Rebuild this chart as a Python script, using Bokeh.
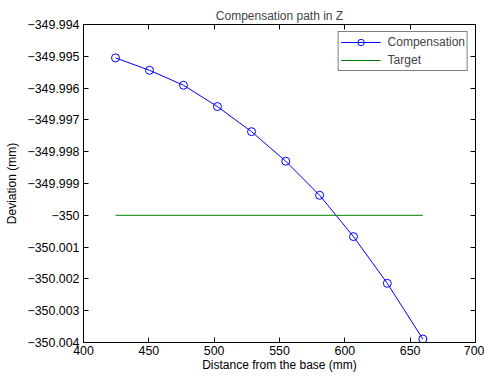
from bokeh.plotting import figure
from bokeh.models import LinearAxis, FixedTicker, CustomJSTickFormatter, Range1d, Legend, LegendItem
from bokeh.embed import file_html
from bokeh.resources import INLINE

# Data
distance = [424.5, 450.5, 476.5, 502.5, 528.6, 554.8, 580.7, 606.6, 632.5, 659.7]
compensation = [-349.99505, -349.99544, -349.99591, -349.99658, -349.99737,
                -349.99830, -349.99937, -350.00067, -350.00214, -350.00389]
target_x = [424.5, 659.7]
target_y = [-350.0, -350.0]
x_ticks = [400, 450, 500, 550, 600, 650, 700]
y_ticks = [-350.004, -350.003, -350.002, -350.001, -350.0, -349.999,
           -349.998, -349.997, -349.996, -349.995, -349.994]

FONT = "Liberation Sans"
FS = "12px"
TFS = "12.4px"

p = figure(width=484, height=377, output_backend="svg", toolbar_location=None,
           x_range=Range1d(400, 700), y_range=Range1d(-350.004, -349.994),
           min_border_left=83, min_border_right=9, min_border_top=24, min_border_bottom=35)

p.title.text = "Compensation path in Z"
p.title.align = "center"
p.title.text_font = FONT
p.title.text_font_size = FS
p.title.text_font_style = "normal"
p.title.offset = 0
p.title.standoff = 4

p.xgrid.visible = False
p.ygrid.visible = False
p.outline_line_color = "black"
p.outline_line_width = 1
p.background_fill_color = "white"
p.border_fill_color = "white"

yfmt = CustomJSTickFormatter(code="""
var v = Math.round(tick*1000)/1000;
return v.toString().replace('-', '\\u2212');
""")
blank = CustomJSTickFormatter(code="return '';")

for ax in p.xaxis:
    ax.ticker = FixedTicker(ticks=x_ticks)
    ax.axis_label = "Distance from the base (mm)"
    ax.major_label_standoff = 3
    ax.axis_label_standoff = 0
for ax in p.yaxis:
    ax.ticker = FixedTicker(ticks=y_ticks)
    ax.formatter = yfmt
    ax.axis_label = "Deviation (mm)"
    ax.major_label_standoff = 4
    ax.axis_label_standoff = 5

for ax in list(p.xaxis) + list(p.yaxis):
    ax.major_tick_in = 5
    ax.major_tick_out = 0
    ax.minor_tick_line_color = None
    ax.major_label_text_font = FONT
    ax.major_label_text_font_size = TFS
    ax.major_label_text_color = "black"
    ax.axis_label_text_font = FONT
    ax.axis_label_text_font_size = FS
    ax.axis_label_text_font_style = "normal"
    ax.axis_label_text_color = "black"
    ax.axis_line_color = "black"
    ax.major_tick_line_color = "black"

# Mirror ticks (top and right)
top = LinearAxis(ticker=FixedTicker(ticks=x_ticks), formatter=blank,
                 major_tick_in=5, major_tick_out=0, minor_tick_line_color=None,
                 major_label_standoff=0, axis_line_color="black")
right = LinearAxis(ticker=FixedTicker(ticks=y_ticks), formatter=blank,
                   major_tick_in=5, major_tick_out=0, minor_tick_line_color=None,
                   major_label_standoff=0, axis_line_color="black")
p.add_layout(top, "above")
p.add_layout(right, "right")

r_comp_line = p.line(distance, compensation, line_color="#0000ff", line_width=1)
r_comp_pts = p.scatter(distance, compensation, marker="circle", size=8,
                       fill_color=None, line_color="#0000ff", line_width=1)
r_target = p.line(target_x, target_y, line_color="#008000", line_width=1)

legend = Legend(items=[LegendItem(label="Compensation", renderers=[r_comp_line, r_comp_pts]),
                       LegendItem(label="Target", renderers=[r_target])],
                location="top_right")
legend.label_text_font = FONT
legend.label_text_font_size = FS
legend.border_line_color = "black"
legend.border_line_width = 1
legend.glyph_width = 40
legend.glyph_height = 16
legend.label_height = 16
legend.spacing = 2
legend.padding = 2
legend.margin = 7
legend.label_standoff = 7
legend.background_fill_alpha = 1.0
p.add_layout(legend, "center")

open("out.html", "w").write(file_html(p, INLINE))
